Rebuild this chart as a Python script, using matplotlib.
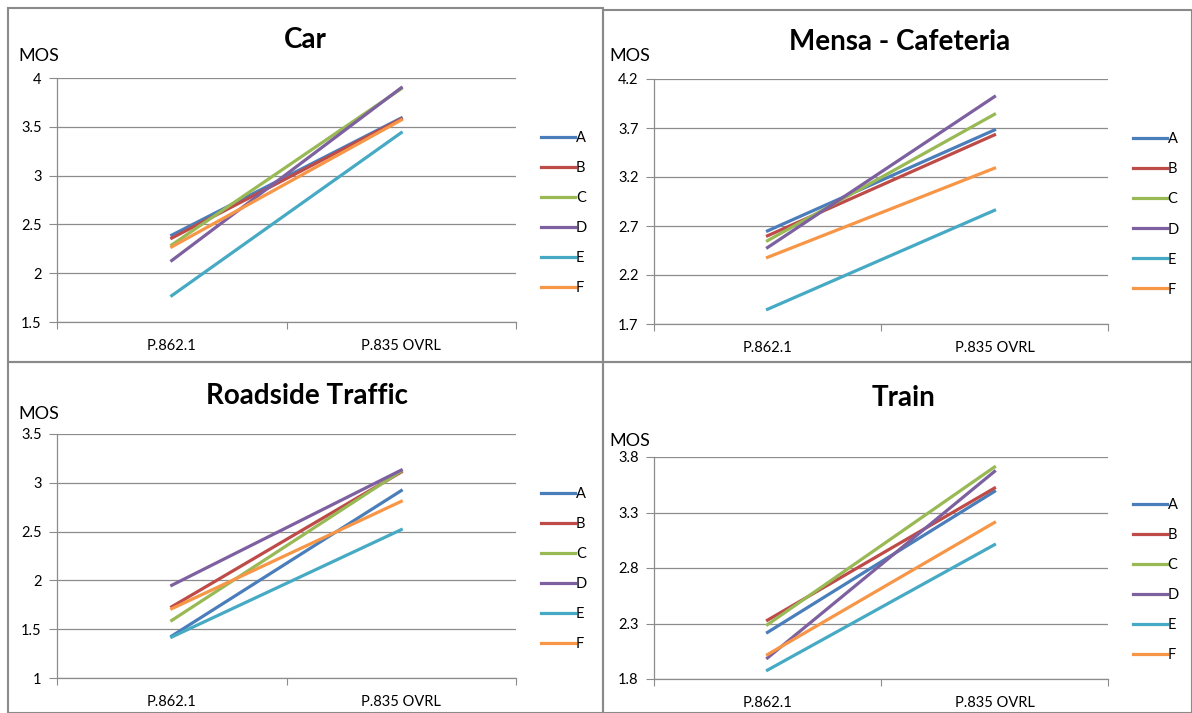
import matplotlib.pyplot as plt
from matplotlib.patches import Rectangle

plt.rcParams['font.family'] = ['Lato', 'DejaVu Sans']

categories = ["P.862.1", "P.835 OVRL"]
series_names = ["A", "B", "C", "D", "E", "F"]
colors = ["#4A7EBB", "#BE4B48", "#98B954", "#7D60A0", "#46AAC5", "#F79646"]

car = [[2.39, 3.59], [2.36, 3.58], [2.29, 3.89], [2.13, 3.90], [1.77, 3.44], [2.27, 3.57]]
mensa = [[2.65, 3.68], [2.60, 3.63], [2.55, 3.84], [2.48, 4.02], [1.85, 2.86], [2.38, 3.29]]
roadside = [[1.43, 2.92], [1.73, 3.11], [1.59, 3.12], [1.95, 3.13], [1.42, 2.52], [1.71, 2.81]]
train = [[2.22, 3.49], [2.33, 3.52], [2.29, 3.71], [1.99, 3.67], [1.88, 3.01], [2.02, 3.21]]

car_ticks = [1.5, 2, 2.5, 3, 3.5, 4]
mensa_ticks = [1.7, 2.2, 2.7, 3.2, 3.7, 4.2]
roadside_ticks = [1, 1.5, 2, 2.5, 3, 3.5]
train_ticks = [1.8, 2.3, 2.8, 3.3, 3.8]

W, H = 1192, 713
fig = plt.figure(figsize=(W / 100, H / 100), dpi=100)

grid_c = "#8C8C8C"


def px(x, y):
    return x / W, 1 - y / H


def panel(rect, data, ticks, title, title_xy, mos_xy):
    l, t, r, b = rect
    ax = fig.add_axes([l / W, 1 - b / H, (r - l) / W, (b - t) / H])
    xs = [0, 1]
    for vals, name, c in zip(data, series_names, colors):
        ax.plot(xs, vals, color=c, lw=2.3, label=name)
    ax.set_xlim(-0.5, 1.5)
    ax.set_ylim(ticks[0], ticks[-1])
    ax.set_yticks(ticks)
    ax.set_yticklabels([f"{v:g}" for v in ticks])
    ax.set_xticks([-0.5, 0.5, 1.5], minor=False)
    ax.set_xticklabels([])
    ax.set_xticks(xs, minor=True)
    ax.set_xticklabels(categories, minor=True)
    ax.tick_params(axis='x', which='major', length=5, color=grid_c, direction='out')
    ax.tick_params(axis='x', which='minor', length=0, labelsize=10.5, pad=12)
    ax.tick_params(axis='y', length=6, color=grid_c, labelsize=10.5, pad=5)
    ax.grid(axis='y', color=grid_c, lw=0.9)
    ax.set_axisbelow(True)
    for s in ['top', 'right']:
        ax.spines[s].set_visible(False)
    for s in ['left', 'bottom']:
        ax.spines[s].set_color(grid_c)
        ax.spines[s].set_linewidth(0.9)
    ax.legend(loc='center left', bbox_to_anchor=(1.054, 0.447), frameon=False,
              fontsize=10.5, handlelength=2.35, handletextpad=0.05,
              labelspacing=1.1, borderpad=0, borderaxespad=0)
    fig.text(*px(*title_xy), title, ha='center', va='center',
             fontsize=20, fontweight='bold')
    fig.text(*px(*mos_xy), "MOS", ha='left', va='center', fontsize=13)
    return ax


panel((57, 78, 516, 322), car, car_ticks, "Car", (305, 40), (18, 56))
panel((654, 79, 1108, 324), mensa, mensa_ticks, "Mensa - Cafeteria", (900, 42), (609, 56))
panel((57, 434, 516, 678), roadside, roadside_ticks, "Roadside Traffic", (307, 396), (18, 414))
panel((654, 457, 1108, 679), train, train_ticks, "Train", (903, 398), (609, 441))

# chart frames
frame_c = "#8A8A8A"
for (x0, y0, x1, y1) in [(8, 8, 603, 362), (603, 10, 1192, 362),
                         (8, 362, 603, 713), (603, 362, 1192, 713)]:
    fig.patches.append(Rectangle(px(x0, y1), (x1 - x0) / W, (y1 - y0) / H,
                                 transform=fig.transFigure, fill=False,
                                 edgecolor=frame_c, lw=1.5))

fig.savefig("out.png", dpi=100)
